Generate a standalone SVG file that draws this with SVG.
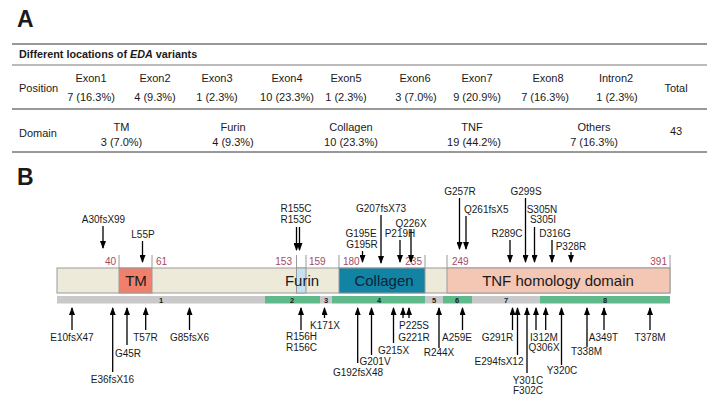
<svg xmlns="http://www.w3.org/2000/svg" width="714" height="401" viewBox="0 0 714 401">
<style>
text{font-family:"Liberation Sans",Arial,sans-serif;fill:#1a1a1a}
.h{font-size:23px;font-weight:bold}
.t{font-size:11px;text-anchor:middle}
.tl{font-size:11px}
.ti{font-size:10.8px;font-weight:bold}
.m{font-size:10px;text-anchor:middle}
.ms{font-size:10px}
.n{font-size:10px;fill:#A34A62}
.d{font-size:15px;text-anchor:middle}
.e{font-size:7.5px;font-weight:bold;text-anchor:middle}
.rule{stroke:#333;stroke-width:1}
.vl{stroke:#999;stroke-width:1}
.ar{stroke:#000;stroke-width:1.3;fill:none;marker-end:url(#ah)}
</style>
<defs>
<marker id="ah" viewBox="0 0 8 6" markerWidth="8" markerHeight="6" refX="7" refY="3" orient="auto" markerUnits="userSpaceOnUse">
<path d="M0,0 L8,3 L0,6 z" fill="#000"/>
</marker>
</defs>
<rect width="714" height="401" fill="#fff"/>

<text class="h" x="17" y="27">A</text>
<text class="h" x="17" y="185">B</text>

<g id="table">
<line class="rule" x1="12" y1="44" x2="707" y2="44" stroke-width="1.6"/>
<line x1="12" y1="65" x2="707" y2="65" stroke="#777" stroke-width="1"/>
<line class="rule" x1="12" y1="109" x2="707" y2="109"/>
<line class="rule" x1="12" y1="152" x2="707" y2="152" stroke-width="1.6"/>
<text class="ti" x="19" y="58">Different locations of <tspan font-style="italic">EDA</tspan> variants</text>
<text class="tl" x="19" y="92">Position</text>
<text class="t" x="91" y="82">Exon1</text><text class="t" x="91" y="101">7 (16.3%)</text>
<text class="t" x="155" y="82">Exon2</text><text class="t" x="155" y="101">4 (9.3%)</text>
<text class="t" x="217" y="82">Exon3</text><text class="t" x="217" y="101">1 (2.3%)</text>
<text class="t" x="287" y="82">Exon4</text><text class="t" x="287" y="101">10 (23.3%)</text>
<text class="t" x="346" y="82">Exon5</text><text class="t" x="346" y="101">1 (2.3%)</text>
<text class="t" x="415" y="82">Exon6</text><text class="t" x="416" y="101">3 (7.0%)</text>
<text class="t" x="477" y="82">Exon7</text><text class="t" x="477" y="101">9 (20.9%)</text>
<text class="t" x="548" y="82">Exon8</text><text class="t" x="545" y="101">7 (16.3%)</text>
<text class="t" x="616" y="82">Intron2</text><text class="t" x="617" y="101">1 (2.3%)</text>
<text class="t" x="676" y="92">Total</text>
<text class="tl" x="19" y="136.5">Domain</text>
<text class="t" x="121.5" y="130.5">TM</text><text class="t" x="121.5" y="145.5">3 (7.0%)</text>
<text class="t" x="233" y="130.5">Furin</text><text class="t" x="233" y="145.5">4 (9.3%)</text>
<text class="t" x="351" y="130.5">Collagen</text><text class="t" x="351" y="145.5">10 (23.3%)</text>
<text class="t" x="472" y="130.5">TNF</text><text class="t" x="474" y="145.5">19 (44.2%)</text>
<text class="t" x="594" y="130.5">Others</text><text class="t" x="594" y="145.5">7 (16.3%)</text>
<text class="t" x="676" y="135">43</text>
</g>

<g id="ticks">
<line class="vl" x1="119" y1="255" x2="119" y2="268"/>
<line class="vl" x1="152" y1="255" x2="152" y2="268"/>
<line class="vl" x1="296.5" y1="255" x2="296.5" y2="268"/>
<line class="vl" x1="306" y1="255" x2="306" y2="268"/>
<line class="vl" x1="339" y1="255" x2="339" y2="268"/>
<line class="vl" x1="425" y1="255" x2="425" y2="268"/>
<line class="vl" x1="447" y1="255" x2="447" y2="268"/>
<line class="vl" x1="670" y1="255" x2="670" y2="268"/>
<text class="n" x="116" y="265" text-anchor="end">40</text>
<text class="n" x="156" y="265">61</text>
<text class="n" x="292" y="265" text-anchor="end">153</text>
<text class="n" x="309" y="265">159</text>
<text class="n" x="343" y="265">180</text>
<text class="n" x="422" y="265" text-anchor="end">235</text>
<text class="n" x="452" y="265">249</text>
<text class="n" x="667" y="265" text-anchor="end">391</text>
</g>

<g id="protein">
<rect x="57" y="268" width="613" height="25" fill="#EEEADA" stroke="#999" stroke-width="1"/>
</g>
<g id="TM">
<rect x="119" y="268" width="33" height="25" fill="#F0806C" stroke="#999" stroke-width="1"/>
<text class="d" x="136" y="286">TM</text>
</g>
<g id="Furin">
<rect x="296.5" y="268" width="9.5" height="25" fill="#C4E2F0" stroke="#999" stroke-width="1"/>
<text class="d" x="302" y="286">Furin</text>
</g>
<g id="Collagen">
<rect x="339" y="268" width="86" height="25" fill="#1283A3" stroke="#999" stroke-width="1"/>
<text class="d" x="384" y="286" style="fill:#0B2438">Collagen</text>
</g>
<g id="TNF">
<rect x="447" y="268" width="223" height="25" fill="#F4C6B4" stroke="#999" stroke-width="1"/>
<text class="d" x="558" y="286">TNF homology domain</text>
</g>

<g id="exons">
<rect x="57" y="296" width="208" height="7.5" fill="#C9C9C9"/>
<rect x="265" y="296" width="55" height="7.5" fill="#60B98A"/>
<rect x="320" y="296" width="12" height="7.5" fill="#C9C9C9"/>
<rect x="332" y="296" width="93" height="7.5" fill="#60B98A"/>
<rect x="425" y="296" width="18" height="7.5" fill="#C9C9C9"/>
<rect x="443" y="296" width="29" height="7.5" fill="#60B98A"/>
<rect x="472" y="296" width="68" height="7.5" fill="#C9C9C9"/>
<rect x="540" y="296" width="130" height="7.5" fill="#60B98A"/>
<text class="e" x="161" y="302.5">1</text>
<text class="e" x="292" y="302.5">2</text>
<text class="e" x="326" y="302.5">3</text>
<text class="e" x="379" y="302.5">4</text>
<text class="e" x="434" y="302.5">5</text>
<text class="e" x="457" y="302.5">6</text>
<text class="e" x="506" y="302.5">7</text>
<text class="e" x="605" y="302.5">8</text>
</g>

<g id="connectors">
<line class="ar" x1="103" y1="226" x2="103" y2="248"/>
<line class="ar" x1="142.5" y1="241" x2="142.5" y2="262"/>
<line class="ar" x1="296.5" y1="227" x2="296.5" y2="250"/>
<line class="ar" x1="299.5" y1="227" x2="299.5" y2="250"/>
<line class="ar" x1="362.5" y1="251" x2="362.5" y2="262"/>
<line class="ar" x1="381" y1="215" x2="381" y2="263"/>
<line class="ar" x1="400" y1="240" x2="400" y2="262"/>
<line class="ar" x1="411" y1="229" x2="411" y2="262"/>
<line class="ar" x1="459.5" y1="198" x2="459.5" y2="249"/>
<line class="ar" x1="466" y1="216" x2="466" y2="249"/>
<line class="ar" x1="510" y1="240" x2="510" y2="262"/>
<line class="ar" x1="525.5" y1="198" x2="525.5" y2="262"/>
<line class="ar" x1="534.5" y1="227" x2="534.5" y2="262"/>
<line class="ar" x1="552" y1="240" x2="552" y2="262"/>
<line class="ar" x1="571" y1="252" x2="571" y2="262"/>

<line class="ar" x1="72" y1="330" x2="72" y2="308"/>
<line class="ar" x1="112.7" y1="372" x2="112.7" y2="308"/>
<line class="ar" x1="127" y1="345" x2="127" y2="308"/>
<line class="ar" x1="145.7" y1="330" x2="145.7" y2="308"/>
<line class="ar" x1="189.5" y1="330" x2="189.5" y2="308"/>
<line class="ar" x1="301" y1="330" x2="301" y2="308"/>
<line class="ar" x1="324.5" y1="318" x2="324.5" y2="308"/>
<line class="ar" x1="357.7" y1="363" x2="357.7" y2="308"/>
<line class="ar" x1="371.5" y1="355" x2="371.5" y2="308"/>
<line class="ar" x1="393.5" y1="343" x2="393.5" y2="308"/>
<line class="ar" x1="403" y1="318" x2="403" y2="308"/>
<line class="ar" x1="409" y1="318" x2="409" y2="308"/>
<line class="ar" x1="439" y1="348" x2="439" y2="308"/>
<line class="ar" x1="462.5" y1="330" x2="462.5" y2="308"/>
<line class="ar" x1="512.5" y1="330" x2="512.5" y2="308"/>
<line class="ar" x1="517.5" y1="355" x2="517.5" y2="308"/>
<line class="ar" x1="527" y1="373" x2="527" y2="308"/>
<line class="ar" x1="536" y1="330" x2="536" y2="308"/>
<line class="ar" x1="545.7" y1="330" x2="545.7" y2="308"/>
<line class="ar" x1="561.5" y1="365" x2="561.5" y2="308"/>
<line class="ar" x1="587" y1="347" x2="587" y2="308"/>
<line class="ar" x1="604" y1="330" x2="604" y2="308"/>
<line class="ar" x1="650" y1="330" x2="650" y2="308"/>
</g>

<g id="mut-A30fsX99"><text class="m" x="103.5" y="223">A30fsX99</text></g>
<g id="mut-L55P"><text class="m" x="143" y="238">L55P</text></g>
<g id="mut-R155C-R153C"><text class="m" x="296" y="212">R155C</text><text class="m" x="296" y="223">R153C</text></g>
<g id="mut-G195"><text class="m" x="361" y="237">G195E</text><text class="m" x="362" y="248">G195R</text></g>
<g id="mut-G207fsX73"><text class="m" x="381" y="212">G207fsX73</text></g>
<g id="mut-P219H"><text class="m" x="400" y="237">P219H</text></g>
<g id="mut-Q226X"><text class="m" x="411" y="227">Q226X</text></g>
<g id="mut-G257R"><text class="m" x="460" y="195">G257R</text></g>
<g id="mut-Q261fsX5"><text class="ms" x="464" y="213">Q261fsX5</text></g>
<g id="mut-R289C"><text class="m" x="507" y="237">R289C</text></g>
<g id="mut-G299S"><text class="m" x="526" y="195">G299S</text></g>
<g id="mut-S305"><text class="m" x="542" y="213">S305N</text><text class="m" x="543" y="223">S305I</text></g>
<g id="mut-D316G"><text class="m" x="555" y="237">D316G</text></g>
<g id="mut-P328R"><text class="m" x="571" y="250">P328R</text></g>

<g id="mut-E10fsX47"><text class="m" x="72" y="341">E10fsX47</text></g>
<g id="mut-E36fsX16"><text class="m" x="112.5" y="383">E36fsX16</text></g>
<g id="mut-G45R"><text class="m" x="128" y="357">G45R</text></g>
<g id="mut-T57R"><text class="m" x="145.5" y="341">T57R</text></g>
<g id="mut-G85fsX6"><text class="m" x="189.5" y="341">G85fsX6</text></g>
<g id="mut-R156"><text class="m" x="301.5" y="340">R156H</text><text class="m" x="301.5" y="351">R156C</text></g>
<g id="mut-K171X"><text class="m" x="325" y="329">K171X</text></g>
<g id="mut-G192fsX48"><text class="m" x="358" y="376">G192fsX48</text></g>
<g id="mut-G201V"><text class="m" x="375" y="365">G201V</text></g>
<g id="mut-G215X"><text class="m" x="393.5" y="354">G215X</text></g>
<g id="mut-P225S-G221R"><text class="m" x="414" y="329">P225S</text><text class="m" x="414" y="341">G221R</text></g>
<g id="mut-R244X"><text class="m" x="439" y="356">R244X</text></g>
<g id="mut-A259E"><text class="m" x="457" y="341">A259E</text></g>
<g id="mut-G291R"><text class="m" x="497.5" y="341">G291R</text></g>
<g id="mut-E294fsX12"><text class="m" x="499" y="365">E294fsX12</text></g>
<g id="mut-Y301C-F302C"><text class="m" x="528" y="384">Y301C</text><text class="m" x="528" y="394">F302C</text></g>
<g id="mut-I312M-Q306X"><text class="m" x="544" y="341">I312M</text><text class="m" x="544" y="351">Q306X</text></g>
<g id="mut-Y320C"><text class="m" x="562" y="374">Y320C</text></g>
<g id="mut-T338M"><text class="m" x="586.5" y="355">T338M</text></g>
<g id="mut-A349T"><text class="m" x="603.5" y="341">A349T</text></g>
<g id="mut-T378M"><text class="m" x="650" y="341">T378M</text></g>
</svg>
